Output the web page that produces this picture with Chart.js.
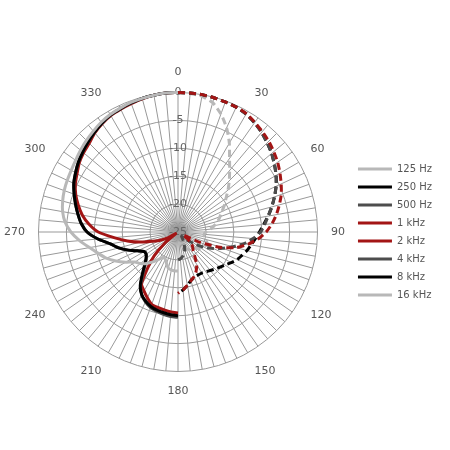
<!DOCTYPE html>
<html>
<head>
<meta charset="utf-8">
<script src="https://cdn.jsdelivr.net/npm/chart.js@4"></script>
<style>
  body { margin: 0; background: #fff; }
  #wrap { width: 450px; height: 450px; }
</style>
</head>
<body>
<div id="wrap"><canvas id="polar"></canvas></div>
<script>
const angulos = [];
for (let a = 0; a < 360; a += 5) angulos.push(a);

// mitad izquierda: 180..355 y 0 (resto null)
const hz125 = [-18, -18, -18.1, -18.3, -19, -19.6, -19.8, -19, -18, -17, -16.2, -15.6, -14.2, -12.7, -11.3, -10.2, -8.9, -7.3, -5.8, -4.7, -4, -3.6, -3.3, -3.1, -2.9, -2.6, -2.2, -1.8, -1.4, -1, -0.7, -0.5, -0.3, -0.2, -0.1, 0];
const hz250 = [-10, -10.1, -10.3, -10.5, -10.8, -11.3, -12, -13.2, -15, -16.5, -17.5, -18, -18, -17, -15.5, -14, -12.7, -10.6, -8.7, -7.6, -6.8, -6, -5.2, -4.4, -3.8, -3.2, -2.7, -2.2, -1.7, -1.2, -0.8, -0.6, -0.4, -0.2, -0.1, 0];
const hz500 = [-9.7, -9.8, -10, -10.3, -10.6, -11.2, -12, -13.3, -15.2, -16.7, -17.6, -18.1, -18, -17, -15.5, -14, -12.7, -10.6, -8.7, -7.6, -6.8, -6, -5.2, -4.4, -3.8, -3.2, -2.7, -2.2, -1.7, -1.2, -0.8, -0.6, -0.4, -0.2, -0.1, 0];
const khz1 = [-10.5, -10.6, -10.8, -11, -11.2, -12, -12.8, -13.6, -16.5, -19, -22, -24.5, -23, -21.5, -20.2, -18, -15.8, -13.5, -10.7, -9, -7.6, -6.5, -5.5, -4.7, -4.1, -3.4, -2.9, -2.5, -1.8, -1.3, -0.9, -0.7, -0.5, -0.3, -0.1, 0];
// mitad derecha: 0..180
const khz2 = [0, 0, 0, -0.1, -0.2, -0.3, -0.5, -1, -1.5, -2, -2.6, -3.2, -3.9, -4.6, -5.3, -6.2, -7.1, -8.1, -9.2, -10.6, -12.3, -14.2, -17, -20.5, -24, -23, -22, -21.3, -20.8, -19.8, -18.3, -17.3, -16.5, -16, -15.3, -14.6, -14];
const khz4 = [0, 0, 0, -0.1, -0.2, -0.3, -0.6, -1.1, -1.7, -2.4, -3.1, -3.9, -4.7, -5.6, -6.6, -7.6, -8.6, -9.4, -10.2, -11.5, -13, -14.8, -16.5, -18, -19.5, -21, -22.5, -23.3, -24, -23.6, -23, -22.3, -21.5, -21, -20.5, -20.2, -20];
const khz8 = [0, 0, 0, -0.1, -0.2, -0.3, -0.6, -1.1, -1.7, -2.4, -3.1, -3.9, -4.7, -5.6, -6.6, -7.6, -8.6, -9.6, -10.4, -11.1, -11.7, -12.2, -12.8, -13.3, -14, -14.7, -15.2, -15.6, -16, -16.3, -16.5, -16.5, -16.4, -16, -15.3, -14.6, -14];
const khz16 = [0, -0.1, -0.3, -1, -2.5, -4.4, -6.6, -8.9, -10.6, -12, -13.3, -14.5, -15.4, -16.3, -17, -17.6, -18.4, -19.2, -20, -20.3, -20.2, -19.8, -19.5, -19.4, -19.6, -20, -20.4, -20.8, -21, -21.2, -21.4, -21.8, -22.2, -22.5, -22.8, -23, -23];

function mitadIzq(v) {
    const d = new Array(72).fill(null);
    d[0] = 0;
    v.forEach((x, i) => { d[36 + i] = x; });
    return d;
}
function mitadDer(v) {
    const d = new Array(72).fill(null);
    v.forEach((x, i) => { d[i] = x; });
    return d;
}

const series = [
    { label: '125 Hz', data: mitadIzq(hz125), color: '#b8b8b8', dash: [] },
    { label: '250 Hz', data: mitadIzq(hz250), color: '#000000', dash: [] },
    { label: '500 Hz', data: mitadIzq(hz500), color: '#4d4d4d', dash: [] },
    { label: '1 kHz', data: mitadIzq(khz1), color: '#a31515', dash: [] },
    { label: '2 kHz', data: mitadDer(khz2), color: '#a31515', dash: [7, 4] },
    { label: '4 kHz', data: mitadDer(khz4), color: '#4d4d4d', dash: [7, 4] },
    { label: '8 kHz', data: mitadDer(khz8), color: '#000000', dash: [7, 4] },
    { label: '16 kHz', data: mitadDer(khz16), color: '#b8b8b8', dash: [7, 4] }
];

new Chart(document.getElementById('polar'), {
    type: 'radar',
    data: {
        labels: angulos,
        datasets: series.map(s => ({
            label: s.label,
            data: s.data,
            borderColor: s.color,
            backgroundColor: s.color,
            borderDash: s.dash,
            borderWidth: 3,
            pointRadius: 0,
            fill: false,
            tension: 0.2,
            spanGaps: false
        }))
    },
    options: {
        responsive: true,
        maintainAspectRatio: false,
        animation: false,
        layout: { padding: { left: 0, right: 8, top: 28, bottom: 14 } },
        scales: {
            r: {
                min: -25,
                max: 0,
                ticks: {
                    stepSize: 5,
                    color: '#666',
                    showLabelBackdrop: false,
                    font: { family: 'DejaVu Sans', size: 11 }
                },
                grid: { circular: true, color: '#999' },
                angleLines: { color: '#999' },
                pointLabels: {
                    color: '#555',
                    font: { family: 'DejaVu Sans', size: 11 },
                    padding: 6,
                    callback: (l) => (l % 30 === 0 ? String(l) : '')
                }
            }
        },
        plugins: {
            legend: {
                position: 'right',
                labels: {
                    usePointStyle: true,
                    pointStyle: 'line',
                    pointStyleWidth: 34,
                    color: '#555',
                    padding: 8,
                    font: { family: 'DejaVu Sans', size: 10 }
                }
            },
            tooltip: { enabled: false }
        }
    }
});
</script>
</body>
</html>
